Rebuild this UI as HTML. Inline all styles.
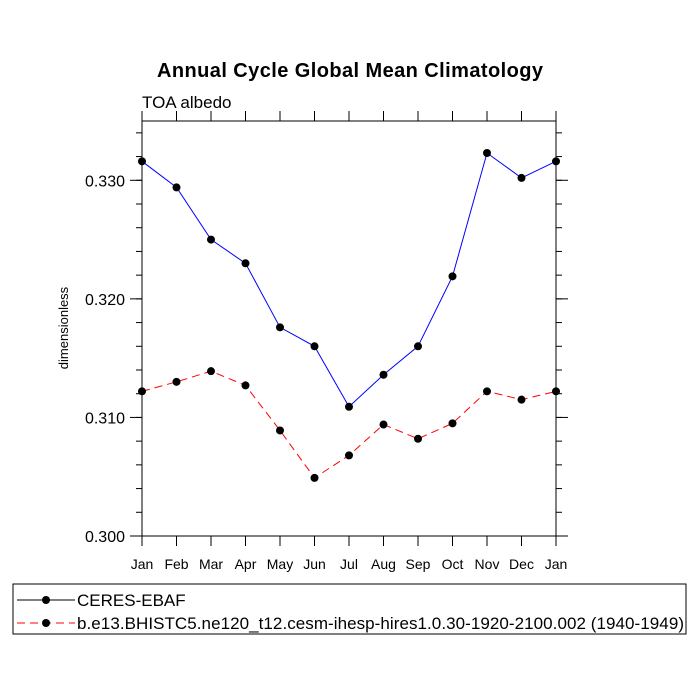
<!DOCTYPE html>
<html><head><meta charset="utf-8"><style>
body{margin:0;background:#fff;}
svg{display:block;font-family:"Liberation Sans",sans-serif;}
</style></head><body>
<svg id="chart" width="700" height="700">
<text x="350" y="77" text-anchor="middle" font-size="20" font-weight="bold" textLength="386">Annual Cycle Global Mean Climatology</text>
<text x="142" y="108" font-size="17">TOA albedo</text>
<text transform="translate(68,328) rotate(-90)" text-anchor="middle" font-size="13">dimensionless</text>
<g id="axes"></g>
<g id="series"></g>
<rect x="13" y="584" width="673" height="50" fill="none" stroke="#000" stroke-width="1"/>
<g>
<line x1="17" y1="600" x2="75" y2="600" stroke="#000" stroke-width="1"/><circle cx="46" cy="600" r="4" fill="#000"/>
<text x="77" y="606" font-size="17">CERES-EBAF</text></g>
<g>
<line x1="17" y1="623" x2="75" y2="623" stroke="#f00" stroke-width="1" stroke-dasharray="8,5"/><circle cx="46" cy="623" r="4" fill="#000"/>
<text x="77" y="629" font-size="17" textLength="607">b.e13.BHISTC5.ne120_t12.cesm-ihesp-hires1.0.30-1920-2100.002 (1940-1949)</text></g>
</svg>
<script>
const months=["Jan","Feb","Mar","Apr","May","Jun","Jul","Aug","Sep","Oct","Nov","Dec","Jan"];
const ceres=[0.3316,0.3294,0.3250,0.3230,0.3176,0.3160,0.3109,0.3136,0.3160,0.3219,0.3323,0.3302,0.3316];
const model=[0.3122,0.3130,0.3139,0.3127,0.3089,0.3049,0.3068,0.3094,0.3082,0.3095,0.3122,0.3115,0.3122];
const yTicks=[0.300,0.310,0.320,0.330];
const yTickLabels=["0.300","0.310","0.320","0.330"];
const X0=142,X1=556,Y0=536,Y1=121,YMIN=0.300,YMAX=0.335;
const NS="http://www.w3.org/2000/svg";
function xs(i){return X0+(X1-X0)*i/(months.length-1);}
function ys(v){return Y0-(v-YMIN)/(YMAX-YMIN)*(Y0-Y1);}
function mk(tag,a,parent){const e=document.createElementNS(NS,tag);for(const k in a)e.setAttribute(k,a[k]);parent.appendChild(e);return e;}
const ax=document.getElementById('axes');
const fr=mk('rect',{x:X0,y:Y1,width:X1-X0,height:Y0-Y1,fill:'none',stroke:'#000','stroke-width':1},ax);


months.forEach((m,i)=>{
  const x=xs(i);
  mk('line',{x1:x,y1:Y0,x2:x,y2:Y0+10,stroke:'#000'},ax);
  mk('line',{x1:x,y1:Y1,x2:x,y2:Y1-10,stroke:'#000'},ax);
  const t=mk('text',{x:x,y:Y0+33,'text-anchor':'middle','font-size':'14'},ax);
  t.textContent=m;
  
  
});
for(let k=0;k<=17;k++){
  const v=YMIN+k*0.002; if(v>YMAX+1e-9)break;
  const y=ys(v);
  mk('line',{x1:X0,y1:y,x2:X0-6,y2:y,stroke:'#000'},ax);
  mk('line',{x1:X1,y1:y,x2:X1+6,y2:y,stroke:'#000'},ax);
}
yTicks.forEach((v,i)=>{
  const y=ys(v);
  mk('line',{x1:X0,y1:y,x2:X0-12,y2:y,stroke:'#000'},ax);
  mk('line',{x1:X1,y1:y,x2:X1+12,y2:y,stroke:'#000'},ax);
  const t=mk('text',{x:X0-17,y:y+6,'text-anchor':'end','font-size':'16'},ax);
  t.textContent=yTickLabels[i];
  
  
});
const sg=document.getElementById('series');
function draw(vals,color,dash,name){
  const pl=mk('polyline',{points:vals.map((v,i)=>xs(i)+','+ys(v)).join(' '),fill:'none',stroke:color,'stroke-width':1,'stroke-dasharray':dash},sg);
  
  
  vals.forEach((v,i)=>{
    const c=mk('circle',{cx:xs(i),cy:ys(v),r:4,fill:'#000'},sg);
    
    
  });
}
draw(ceres,'#00f','none','ceres');
draw(model,'#f00','8,5','model');
</script>
</body></html>
